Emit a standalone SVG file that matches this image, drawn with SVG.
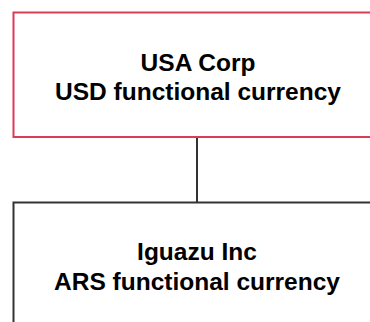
<svg xmlns="http://www.w3.org/2000/svg" width="370" height="322" viewBox="0 0 370 322">
<style>
.box{fill:#fff;stroke-width:2}
.red{stroke:#dc3b58}
.dark{stroke:#333}
.t{font-family:"Liberation Sans",Arial,sans-serif;font-weight:bold;font-size:24.5px;fill:#000;text-anchor:middle}
</style>
<rect width="370" height="322" fill="#fff"/>
<g id="connectors">
<line x1="197" y1="137" x2="197" y2="202" stroke="#333" stroke-width="2"/>
</g>
<g id="usa-corp">
<rect class="box red" x="13.5" y="12.5" width="380" height="124.5"/>
<text class="t" x="198" y="71">USA Corp</text>
<text class="t" x="198" y="100">USD functional currency</text>
</g>
<g id="iguazu-inc">
<rect class="box dark" x="13.5" y="202.5" width="380" height="140"/>
<text class="t" x="197" y="260">Iguazu Inc</text>
<text class="t" x="197" y="290">ARS functional currency</text>
</g>
</svg>
